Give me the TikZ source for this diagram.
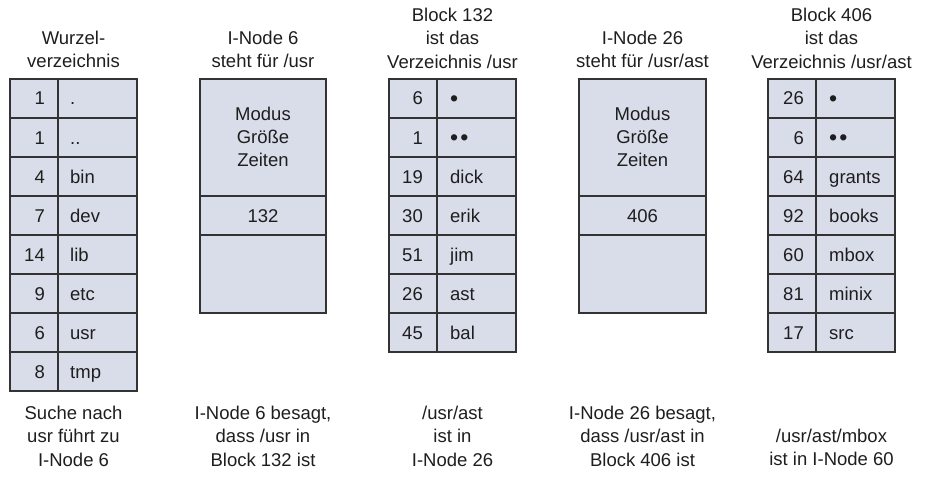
\documentclass[tikz,border=0pt]{standalone}
\usepackage{fontspec}
\setmainfont{Liberation Sans}
\usetikzlibrary{positioning}

\definecolor{cellblue}{HTML}{D9DDEA}
\definecolor{lineclr}{HTML}{333333}
\definecolor{textclr}{HTML}{1E1E1E}
\newcommand{\cellfont}{\fontsize{18.5}{23.3}\selectfont}
\newcommand{\dirdot}{\raisebox{-1.6pt}{\scalebox{1.25}{\textbullet}}}

\tikzset{
  cell/.style={draw=lineclr, fill=cellblue, line width=1.4pt, inner sep=0pt, outer sep=0pt},
  nrcell/.style={cell, minimum width=48pt, minimum height=39pt},
  nmcell/.style={cell, minimum width=79pt, minimum height=39pt},
  txt/.style={inner sep=0pt, text height=13pt, text depth=0pt, font=\cellfont, text=textclr},
  caption/.style={align=center, inner sep=0pt, anchor=north, font=\cellfont, text=textclr}
}

\begin{document}
\begin{tikzpicture}[x=1pt, y=-1pt]

\useasboundingbox (0,0) rectangle (925,476);

% headers
\node[caption] (h-root) at (73.5, 31) {Wurzel-\\verzeichnis};
\node[caption] (h-i6) at (263, 31) {I-Node 6\\steht für /usr};
\node[caption] (h-b132) at (452.5, 8) {Block 132\\ist das\\Verzeichnis /usr};
\node[caption] (h-i26) at (642.5, 31) {I-Node 26\\steht für /usr/ast};
\node[caption] (h-b406) at (831.5, 8) {Block 406\\ist das\\Verzeichnis /usr/ast};

% root directory
\foreach \nr/\nm [count=\i] in {1/., 1/.., 4/bin, 7/dev, 14/lib, 9/etc, 6/usr, 8/tmp} {
  \node[nrcell] (root-nr\i) at (34, {59.5+39*\i}) {};
  \node[nmcell] (root-nm\i) at (97.5, {59.5+39*\i}) {};
  \node[txt, left=13pt of root-nr\i.east] (root-nrt\i) {\nr};
  \node[txt, right=12pt of root-nm\i.west] (root-nmt\i) {\nm};
}

% i-node 6
\node[cell, minimum width=126pt, minimum height=117pt] (i6-attr) at (263, 137.5) {};
\node[cell, minimum width=126pt, minimum height=39pt] (i6-addr) at (263, 215.5) {};
\node[cell, minimum width=126pt, minimum height=78pt] (i6-rest) at (263, 274) {};
\node[caption, anchor=center] (i6-attrt) at (263, 137) {Modus\\Größe\\Zeiten};
\node[txt] (i6-addrt) at (i6-addr) {132};

% block 132
\foreach \nr/\nm [count=\i] in {6/\dirdot, 1/\dirdot\hspace{2pt}\dirdot, 19/dick, 30/erik, 51/jim, 26/ast, 45/bal} {
  \node[nrcell] (b132-nr\i) at (413, {59.5+39*\i}) {};
  \node[nmcell] (b132-nm\i) at (476.5, {59.5+39*\i}) {};
  \node[txt, left=14pt of b132-nr\i.east] (b132-nrt\i) {\nr};
  \node[txt, right=13pt of b132-nm\i.west] (b132-nmt\i) {\nm};
}

% i-node 26
\node[cell, minimum width=127pt, minimum height=117pt] (i26-attr) at (642.5, 137.5) {};
\node[cell, minimum width=127pt, minimum height=39pt] (i26-addr) at (642.5, 215.5) {};
\node[cell, minimum width=127pt, minimum height=78pt] (i26-rest) at (642.5, 274) {};
\node[caption, anchor=center] (i26-attrt) at (642.5, 137) {Modus\\Größe\\Zeiten};
\node[txt] (i26-addrt) at (i26-addr) {406};

% block 406
\foreach \nr/\nm [count=\i] in {26/\dirdot, 6/\dirdot\hspace{2pt}\dirdot, 64/grants, 92/books, 60/mbox, 81/minix, 17/src} {
  \node[nrcell] (b406-nr\i) at (792, {59.5+39*\i}) {};
  \node[nmcell] (b406-nm\i) at (855.5, {59.5+39*\i}) {};
  \node[txt, left=12pt of b406-nr\i.east] (b406-nrt\i) {\nr};
  \node[txt, right=13pt of b406-nm\i.west] (b406-nmt\i) {\nm};
}

% footers
\node[caption] (f-root) at (73.5, 406) {Suche nach\\usr führt zu\\I-Node 6};
\node[caption] (f-i6) at (263, 406) {I-Node 6 besagt,\\dass /usr in\\Block 132 ist};
\node[caption] (f-b132) at (452.5, 406) {/usr/ast\\ist in\\I-Node 26};
\node[caption] (f-i26) at (642.5, 406) {I-Node 26 besagt,\\dass /usr/ast in\\Block 406 ist};
\node[caption] (f-b406) at (831.5, 429) {/usr/ast/mbox\\ist in I-Node 60};

\end{tikzpicture}
\end{document}
